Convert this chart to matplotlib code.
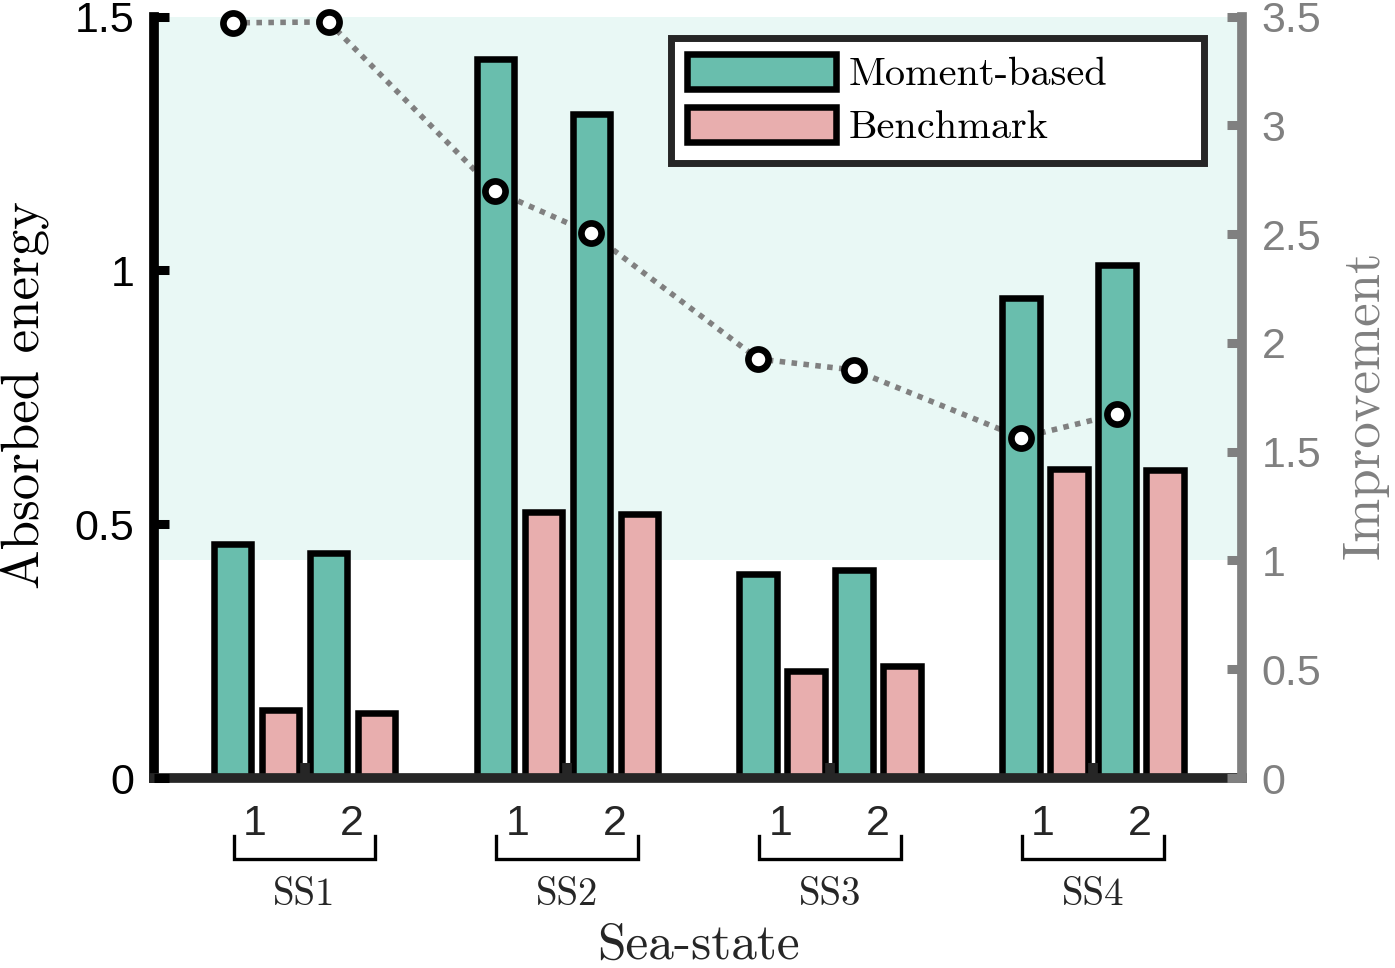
import matplotlib
matplotlib.use("Agg")
import matplotlib.pyplot as plt
import matplotlib.transforms as mtransforms
from matplotlib.patches import Patch

# data
sea_states = ["SS1", "SS2", "SS3", "SS4"]
sub_labels = ["1", "2"]
moment_1 = [0.461, 1.416, 0.402, 0.945]
bench_1 = [0.134, 0.524, 0.211, 0.609]
moment_2 = [0.443, 1.307, 0.410, 1.010]
bench_2 = [0.128, 0.520, 0.221, 0.607]
improve_1 = [3.471, 2.698, 1.926, 1.564]
improve_2 = [3.475, 2.503, 1.875, 1.672]
left_ticks = [0, 0.5, 1, 1.5]
right_ticks = [0, 0.5, 1, 1.5, 2, 2.5, 3, 3.5]

TEAL = "#69BEAD"
PINK = "#E8AEAE"
SHADE = "#E9F8F5"
DARK = "#262626"
GREY = "#808080"
SERIF = "cmr10"
SANS = "Liberation Sans"

W, H = 1395, 968
fig = plt.figure(figsize=(W / 100, H / 100), dpi=100)
L, R, T, B = 154, 1242, 16.5, 778
ax = fig.add_axes([L / W, (H - B) / H, (R - L) / W, (B - T) / H])
ax2 = ax.twinx()

groups = list(range(1, len(sea_states) + 1))
step = 0.1826
bw = 0.1427

ax.set_xlim(0.4273, 4.567)
ax.set_ylim(0, 1.5)
ax2.set_ylim(0, 3.5)

# shaded band where improvement > 1
band = mtransforms.blended_transform_factory(ax.transAxes, ax2.transData)
ax.fill_between([0, 1], [1, 1], [3.5, 3.5], transform=band, color=SHADE,
                lw=0, zorder=0)

# dotted improvement line (sits under the bars)
xs_line, ys_line = [], []
for g, a, b in zip(groups, improve_1, improve_2):
    xs_line += [g - 1.5 * step, g + 0.5 * step]
    ys_line += [a, b]
ax.plot(xs_line, ys_line, transform=ax2.transData, color=GREY, lw=4.0,
        ls=(0, (1, 1.15)), zorder=1, clip_on=False)

bar_kw = dict(width=bw, edgecolor="black", linewidth=4.7, zorder=2)
ax.bar([g - 1.5 * step for g in groups], moment_1, color=TEAL, **bar_kw)
ax.bar([g - 0.5 * step for g in groups], bench_1, color=PINK, **bar_kw)
ax.bar([g + 0.5 * step for g in groups], moment_2, color=TEAL, **bar_kw)
ax.bar([g + 1.5 * step for g in groups], bench_2, color=PINK, **bar_kw)
ax.set_axisbelow(False)

# markers on top
ax2.plot(xs_line, ys_line, ls="none", marker="o", ms=14.5, mew=4.8,
         mfc="white", mec="black", zorder=5, clip_on=False)

# spines and ticks
for s in ("top", "right"):
    ax.spines[s].set_visible(False)
for s in ("top", "left", "bottom"):
    ax2.spines[s].set_visible(False)
ax.spines["left"].set_color("black")
ax.spines["left"].set_linewidth(7)
ax.spines["bottom"].set_color(DARK)
ax.spines["bottom"].set_linewidth(7)
ax2.spines["right"].set_color(GREY)
ax2.spines["right"].set_linewidth(7)

ax.set_yticks(left_ticks)
ax.set_yticklabels(["0", "0.5", "1", "1.5"])
ax.tick_params(axis="y", direction="in", length=11, width=6.5, colors="black",
               labelsize=31, pad=14)
ax.set_xticks(groups)
ax.set_xticklabels([])
ax.tick_params(axis="x", direction="in", length=11, width=7, color=DARK)
ax2.set_yticks(right_ticks)
ax2.set_yticklabels(["0", "0.5", "1", "1.5", "2", "2.5", "3", "3.5"])
ax2.tick_params(axis="y", direction="in", length=11, width=6.5, colors=GREY,
                labelsize=31, pad=14)
for lab in ax.get_yticklabels() + ax2.get_yticklabels():
    lab.set_fontfamily(SANS)

# group annotations below the axis
under = mtransforms.blended_transform_factory(ax.transData, fig.transFigure)
def fy(px):
    return (H - px) / H

for g, name in zip(groups, sea_states):
    ax.text(g - 0.19, fy(835), sub_labels[0], transform=under, ha="center",
            va="baseline", fontsize=31, family=SANS, color=DARK)
    ax.text(g + 0.18, fy(835), sub_labels[1], transform=under, ha="center",
            va="baseline", fontsize=31, family=SANS, color=DARK)
    ax.plot([g - 0.27, g - 0.27, g + 0.27, g + 0.27],
            [fy(836), fy(858.5), fy(858.5), fy(836)], transform=under,
            color="black", lw=2.4, clip_on=False, solid_joinstyle="miter")
    ax.text(g, fy(905), name, transform=under, ha="center", va="baseline",
            fontsize=28, family=SERIF, color=DARK)

fig.text((L + R) / 2 / W, fy(959), "Sea-state", ha="center", va="baseline",
         fontsize=37, family=SERIF, color=DARK)
fig.text(26 / W, fy(395), "Absorbed energy", rotation=90, ha="center",
         va="center", fontsize=38, family=SERIF, color="black")
fig.text(1365 / W, fy(405), "Improvement", rotation=90, ha="center",
         va="center", fontsize=38, family=SERIF, color=GREY)

handles = [Patch(facecolor=TEAL, edgecolor="black", linewidth=4.7),
           Patch(facecolor=PINK, edgecolor="black", linewidth=4.7)]
leg = ax2.legend(handles, ["Moment-based", "Benchmark"],
                 loc="upper left", bbox_to_anchor=(0.475, 0.809, 0.49, 0.163),
                 mode="expand", borderaxespad=0, fancybox=False, framealpha=1,
                 edgecolor=DARK, prop={"family": SERIF, "size": 29},
                 handlelength=3.7, handleheight=0.95, handletextpad=0.32,
                 borderpad=0.4, labelspacing=0.35)
leg.get_frame().set_linewidth(5)
leg.set_zorder(10)

fig.savefig("out.png", dpi=100)
